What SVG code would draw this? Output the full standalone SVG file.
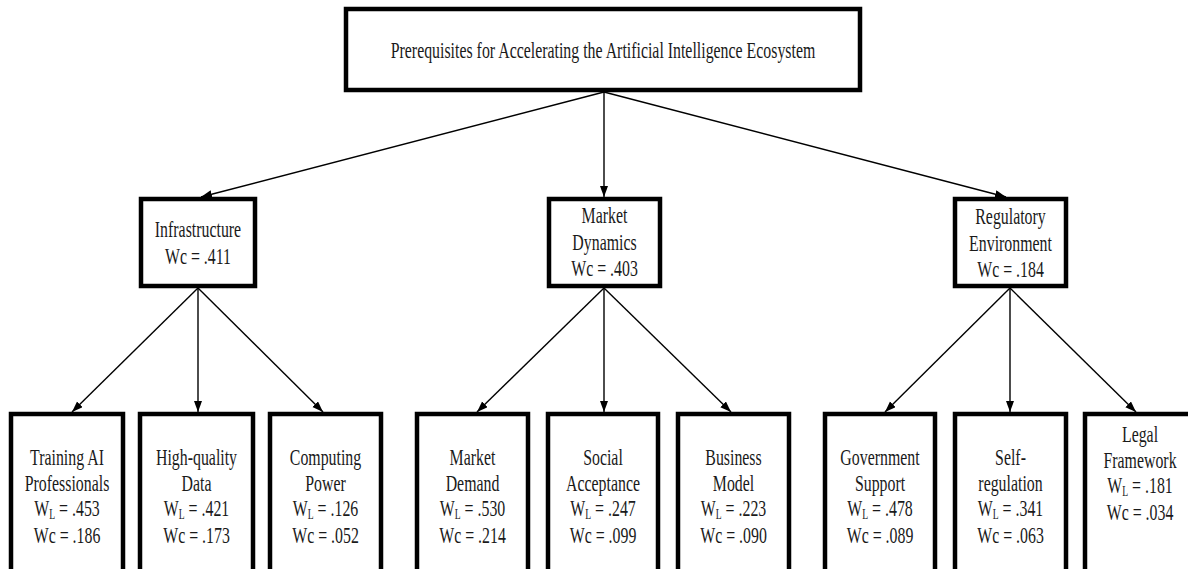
<svg xmlns="http://www.w3.org/2000/svg" width="1188" height="569" viewBox="0 0 1188 569">
<style>
.box{fill:#fff;stroke:#000;stroke-width:4.5}
.t{font-family:"Liberation Serif","Times New Roman",serif;font-size:23px;fill:#1a1a1a;text-anchor:middle}
.sub{font-size:14px}
.c{stroke:#000;stroke-width:1.4;fill:none;marker-end:url(#ah)}
</style>
<defs>
<marker id="ah" markerUnits="userSpaceOnUse" markerWidth="12" markerHeight="10" refX="11" refY="4" orient="auto">
<path d="M0,0 L11,4 L0,8 Z" fill="#000"/>
</marker>
</defs>
<rect width="1188" height="569" fill="#fff"/>
<g id="connectors">
<line class="c" x1="604" y1="92" x2="201" y2="197"/>
<line class="c" x1="604" y1="92" x2="604" y2="197"/>
<line class="c" x1="604" y1="92" x2="1006" y2="197"/>
<line class="c" x1="198" y1="288" x2="72" y2="412"/>
<line class="c" x1="198" y1="288" x2="198" y2="412"/>
<line class="c" x1="198" y1="288" x2="323" y2="412"/>
<line class="c" x1="604" y1="288" x2="477" y2="412"/>
<line class="c" x1="604" y1="288" x2="604" y2="412"/>
<line class="c" x1="604" y1="288" x2="731" y2="412"/>
<line class="c" x1="1010" y1="288" x2="885" y2="412"/>
<line class="c" x1="1010" y1="288" x2="1010" y2="412"/>
<line class="c" x1="1010" y1="288" x2="1136" y2="412"/>
</g>
<g id="root">
<rect class="box" x="346" y="9" width="514" height="81"/>
<text class="t" transform="translate(603 0) scale(0.69 1)" x="0" y="58">Prerequisites for Accelerating the Artificial Intelligence Ecosystem</text>
</g>
<g id="infrastructure">
<rect class="box" x="141" y="199" width="114" height="87"/>
<text class="t" transform="translate(198 0) scale(0.69 1)"><tspan x="0" y="237">Infrastructure</tspan><tspan x="0" y="264">Wc = .411</tspan></text>
</g>
<g id="market-dynamics">
<rect class="box" x="549" y="199" width="111" height="87"/>
<text class="t" transform="translate(604.5 0) scale(0.69 1)"><tspan x="0" y="223">Market</tspan><tspan x="0" y="250">Dynamics</tspan><tspan x="0" y="276">Wc = .403</tspan></text>
</g>
<g id="regulatory-environment">
<rect class="box" x="955" y="199" width="111" height="87"/>
<text class="t" transform="translate(1010.5 0) scale(0.69 1)"><tspan x="0" y="224">Regulatory</tspan><tspan x="0" y="251">Environment</tspan><tspan x="0" y="277">Wc = .184</tspan></text>
</g>
<g id="training-ai">
<rect class="box" x="11" y="414" width="112" height="170"/>
<text class="t" transform="translate(67 0) scale(0.69 1)"><tspan x="0" y="465">Training AI</tspan><tspan x="0" y="491">Professionals</tspan><tspan x="0" y="516">W<tspan class="sub" dy="3">L</tspan><tspan dy="-3"> = .453</tspan></tspan><tspan x="0" y="543">Wc = .186</tspan></text>
</g>
<g id="high-quality-data">
<rect class="box" x="140" y="414" width="113" height="170"/>
<text class="t" transform="translate(196.5 0) scale(0.69 1)"><tspan x="0" y="465">High-quality</tspan><tspan x="0" y="491">Data</tspan><tspan x="0" y="516">W<tspan class="sub" dy="3">L</tspan><tspan dy="-3"> = .421</tspan></tspan><tspan x="0" y="543">Wc = .173</tspan></text>
</g>
<g id="computing-power">
<rect class="box" x="270" y="414" width="111" height="170"/>
<text class="t" transform="translate(325.5 0) scale(0.69 1)"><tspan x="0" y="465">Computing</tspan><tspan x="0" y="491">Power</tspan><tspan x="0" y="516">W<tspan class="sub" dy="3">L</tspan><tspan dy="-3"> = .126</tspan></tspan><tspan x="0" y="543">Wc = .052</tspan></text>
</g>
<g id="market-demand">
<rect class="box" x="417" y="414" width="111" height="170"/>
<text class="t" transform="translate(472.5 0) scale(0.69 1)"><tspan x="0" y="465">Market</tspan><tspan x="0" y="491">Demand</tspan><tspan x="0" y="516">W<tspan class="sub" dy="3">L</tspan><tspan dy="-3"> = .530</tspan></tspan><tspan x="0" y="543">Wc = .214</tspan></text>
</g>
<g id="social-acceptance">
<rect class="box" x="548" y="414" width="110" height="170"/>
<text class="t" transform="translate(603 0) scale(0.69 1)"><tspan x="0" y="465">Social</tspan><tspan x="0" y="491">Acceptance</tspan><tspan x="0" y="516">W<tspan class="sub" dy="3">L</tspan><tspan dy="-3"> = .247</tspan></tspan><tspan x="0" y="543">Wc = .099</tspan></text>
</g>
<g id="business-model">
<rect class="box" x="678" y="414" width="111" height="170"/>
<text class="t" transform="translate(733.5 0) scale(0.69 1)"><tspan x="0" y="465">Business</tspan><tspan x="0" y="491">Model</tspan><tspan x="0" y="516">W<tspan class="sub" dy="3">L</tspan><tspan dy="-3"> = .223</tspan></tspan><tspan x="0" y="543">Wc = .090</tspan></text>
</g>
<g id="government-support">
<rect class="box" x="825" y="414" width="110" height="170"/>
<text class="t" transform="translate(880 0) scale(0.69 1)"><tspan x="0" y="465">Government</tspan><tspan x="0" y="491">Support</tspan><tspan x="0" y="516">W<tspan class="sub" dy="3">L</tspan><tspan dy="-3"> = .478</tspan></tspan><tspan x="0" y="543">Wc = .089</tspan></text>
</g>
<g id="self-regulation">
<rect class="box" x="955" y="414" width="111" height="170"/>
<text class="t" transform="translate(1010.5 0) scale(0.69 1)"><tspan x="0" y="465">Self-</tspan><tspan x="0" y="491">regulation</tspan><tspan x="0" y="516">W<tspan class="sub" dy="3">L</tspan><tspan dy="-3"> = .341</tspan></tspan><tspan x="0" y="543">Wc = .063</tspan></text>
</g>
<g id="legal-framework">
<rect class="box" x="1085" y="414" width="111" height="170"/>
<text class="t" transform="translate(1140 0) scale(0.69 1)"><tspan x="0" y="442">Legal</tspan><tspan x="0" y="468">Framework</tspan><tspan x="0" y="493">W<tspan class="sub" dy="3">L</tspan><tspan dy="-3"> = .181</tspan></tspan><tspan x="0" y="520">Wc = .034</tspan></text>
</g>
</svg>
